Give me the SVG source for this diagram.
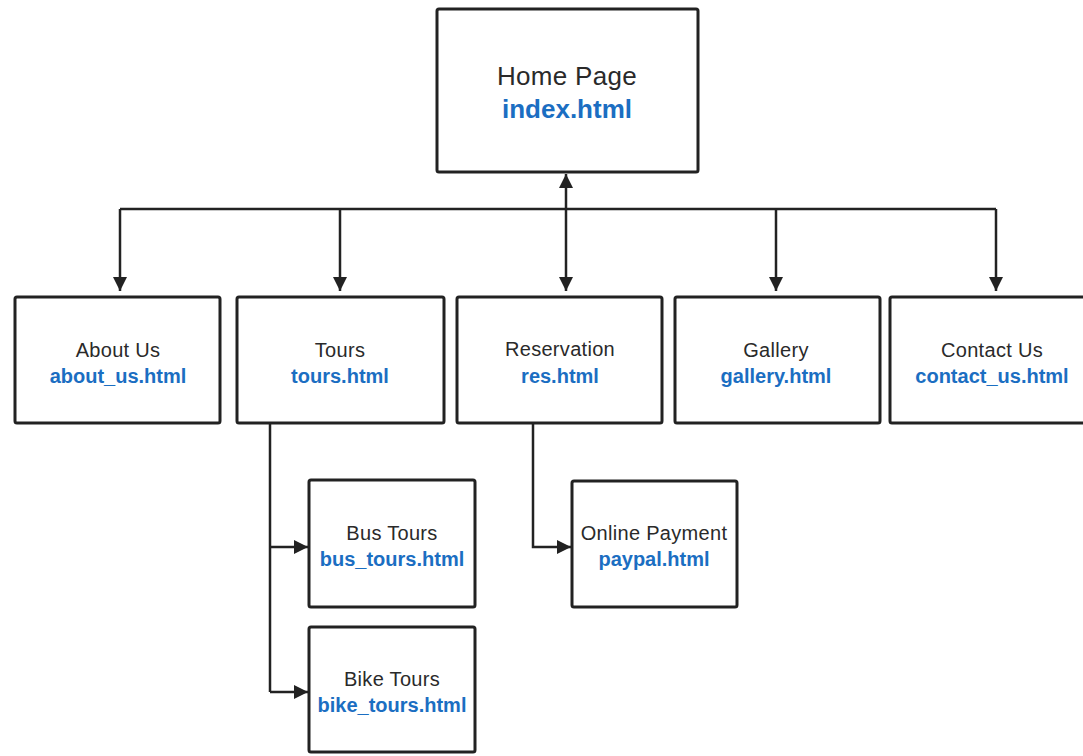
<svg xmlns="http://www.w3.org/2000/svg" width="1083" height="756" viewBox="0 0 1083 756">
<defs>
<style>
.box{fill:#fff;stroke:#222;stroke-width:3;stroke-linejoin:round}
.t{font-family:"Liberation Sans",Arial,sans-serif;font-size:20px;fill:#2a2a2a;text-anchor:middle;letter-spacing:0.3px}
.f{font-family:"Liberation Sans",Arial,sans-serif;font-size:20px;font-weight:bold;fill:#1b6ec2;text-anchor:middle}
.big{font-size:26px}
.c{fill:none;stroke:#222;stroke-width:2.5}
</style>
<marker id="ah" viewBox="0 0 10 10" refX="10" refY="5" markerWidth="14" markerHeight="14" markerUnits="userSpaceOnUse" orient="auto-start-reverse">
<path d="M0,0 L10,5 L0,10 z" fill="#222"/>
</marker>
</defs>
<rect width="1083" height="756" fill="#fff"/>
<g id="connectors">
<path class="c" d="M120,209 H996"/>
<path class="c" d="M120,209 V291" marker-end="url(#ah)"/>
<path class="c" d="M340,209 V291" marker-end="url(#ah)"/>
<path class="c" d="M566,174 V291" marker-start="url(#ah)" marker-end="url(#ah)"/>
<path class="c" d="M776,209 V291" marker-end="url(#ah)"/>
<path class="c" d="M996,209 V291" marker-end="url(#ah)"/>
<path class="c" d="M270,423 V692"/>
<path class="c" d="M270,547 H308" marker-end="url(#ah)"/>
<path class="c" d="M270,692 H308" marker-end="url(#ah)"/>
<path class="c" d="M533,423 V547 H571" marker-end="url(#ah)"/>
</g>
<g id="home">
<rect class="box" x="437" y="9" width="261" height="163" rx="2"/>
<text class="t big" x="567" y="85">Home Page</text>
<text class="f big" x="567" y="118">index.html</text>
</g>
<g id="about">
<rect class="box" x="15" y="297" width="205" height="126" rx="2"/>
<text class="t" x="118" y="357">About Us</text>
<text class="f" x="118" y="383">about_us.html</text>
</g>
<g id="tours">
<rect class="box" x="237" y="297" width="207" height="126" rx="2"/>
<text class="t" x="340" y="357">Tours</text>
<text class="f" x="340" y="383">tours.html</text>
</g>
<g id="reservation">
<rect class="box" x="457" y="297" width="205" height="126" rx="2"/>
<text class="t" x="560" y="356">Reservation</text>
<text class="f" x="560" y="383">res.html</text>
</g>
<g id="gallery">
<rect class="box" x="675" y="297" width="205" height="126" rx="2"/>
<text class="t" x="776" y="357">Gallery</text>
<text class="f" x="776" y="383">gallery.html</text>
</g>
<g id="contact">
<rect class="box" x="890" y="297" width="200" height="126" rx="2"/>
<text class="t" x="992" y="357">Contact Us</text>
<text class="f" x="992" y="383">contact_us.html</text>
</g>
<g id="bustours">
<rect class="box" x="309" y="480" width="166" height="127" rx="2"/>
<text class="t" x="392" y="540">Bus Tours</text>
<text class="f" x="392" y="566">bus_tours.html</text>
</g>
<g id="biketours">
<rect class="box" x="309" y="627" width="166" height="125" rx="2"/>
<text class="t" x="392" y="686">Bike Tours</text>
<text class="f" x="392" y="712">bike_tours.html</text>
</g>
<g id="payment">
<rect class="box" x="572" y="481" width="165" height="126" rx="2"/>
<text class="t" x="654" y="540">Online Payment</text>
<text class="f" x="654" y="566">paypal.html</text>
</g>
</svg>
